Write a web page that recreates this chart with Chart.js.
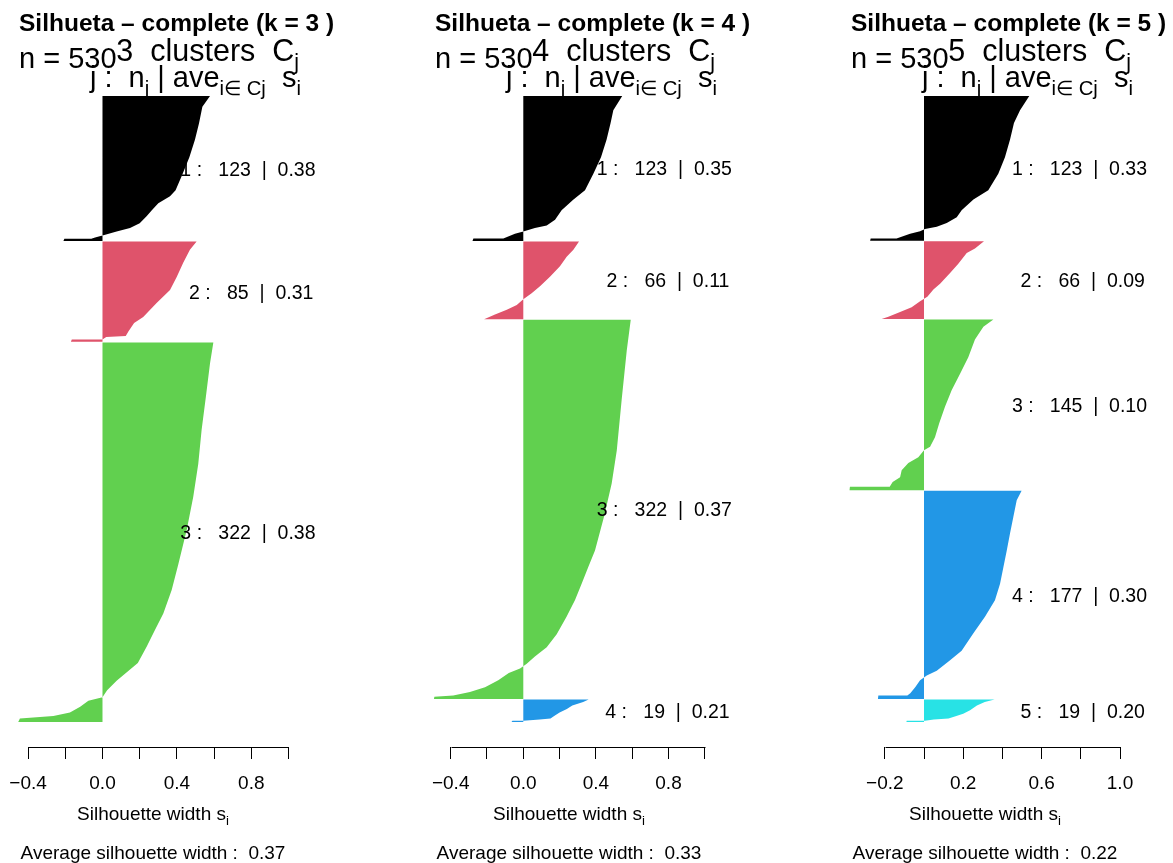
<!DOCTYPE html>
<html>
<head>
<meta charset="utf-8">
<script src="https://cdn.jsdelivr.net/npm/chart.js@4.4.0/dist/chart.umd.min.js"></script>
<style>
  html, body { margin: 0; padding: 0; background: #fff; }
  #wrap { position: relative; width: 1173px; height: 863px; overflow: hidden; }
  canvas { position: absolute; top: 0; }
</style>
</head>
<body>
<div id="wrap">
  <canvas id="panel1" width="416" height="863" style="left:0px"></canvas>
  <canvas id="panel2" width="416" height="863" style="left:416px"></canvas>
  <canvas id="panel3" width="416" height="863" style="left:832px"></canvas>
</div>
<script>
// ---- données ----
const clusterColors = ['#000000', '#DF536B', '#61D04F', '#2297E6', '#28E2E5'];

// k = 3
const p1Sizes = [123, 85, 322];
const p1Avg = ['0.38', '0.31', '0.38'];
const p1Overall = '0.37';
const p1c1Obs = [0, 9, 23, 37, 52, 66, 80, 85, 91, 97, 102, 108, 112, 115, 118, 120, 121, 121, 123];
const p1c1Sil = [0.578, 0.537, 0.519, 0.497, 0.467, 0.431, 0.393, 0.363, 0.300, 0.264, 0.237, 0.200, 0.148, 0.076, 0.005, -0.040, -0.060, -0.205, -0.210];
const p1c2Obs = [0, 7, 18, 30, 41, 52, 64, 69, 76, 80, 81, 83, 83, 85];
const p1c2Sil = [0.506, 0.470, 0.434, 0.399, 0.363, 0.291, 0.219, 0.170, 0.140, 0.125, 0.020, 0.000, -0.165, -0.170];
const p1c3Obs = [0, 18, 46, 74, 103, 131, 159, 188, 210, 230, 244, 258, 272, 287, 295, 301, 304, 309, 314, 317, 319, 322];
const p1c3Sil = [0.596, 0.578, 0.556, 0.533, 0.515, 0.488, 0.453, 0.408, 0.372, 0.327, 0.282, 0.238, 0.190, 0.076, 0.025, 0.000, -0.076, -0.120, -0.175, -0.264, -0.444, -0.453];

// k = 4
const p2Sizes = [123, 66, 322, 19];
const p2Avg = ['0.35', '0.11', '0.37', '0.21'];
const p2Overall = '0.33';
const p2c1Obs = [0, 12, 23, 37, 52, 66, 80, 88, 97, 105, 110, 112, 115, 117, 121, 121, 123];
const p2c1Sil = [0.545, 0.496, 0.481, 0.459, 0.428, 0.386, 0.340, 0.275, 0.211, 0.175, 0.129, 0.064, 0.000, -0.046, -0.110, -0.275, -0.280];
const p2c2Obs = [0, 7, 13, 21, 30, 38, 44, 49, 54, 58, 62, 66];
const p2c2Sil = [0.307, 0.276, 0.239, 0.202, 0.147, 0.092, 0.046, 0.000, -0.036, -0.091, -0.156, -0.216];
const p2c3Obs = [0, 26, 68, 111, 139, 167, 196, 210, 224, 238, 252, 267, 278, 286, 292, 296, 300, 306, 312, 316, 319, 320, 322];
const p2c3Sil = [0.592, 0.570, 0.542, 0.515, 0.487, 0.445, 0.395, 0.358, 0.322, 0.285, 0.239, 0.184, 0.129, 0.064, 0.019, -0.018, -0.080, -0.138, -0.211, -0.294, -0.386, -0.490, -0.492];
const p2c4Obs = [0, 2, 5, 8, 11, 14, 16, 17, 18, 18, 19];
const p2c4Sil = [0.360, 0.330, 0.270, 0.240, 0.200, 0.170, 0.150, 0.090, 0.000, -0.060, -0.065];

// k = 5
const p3Sizes = [123, 66, 145, 177, 19];
const p3Avg = ['0.33', '0.09', '0.10', '0.30', '0.20'];
const p3Overall = '0.22';
const p3c1Obs = [0, 12, 23, 37, 52, 66, 80, 88, 97, 103, 108, 111, 113, 115, 117, 121, 121, 123];
const p3c1Sil = [0.537, 0.490, 0.459, 0.439, 0.413, 0.379, 0.328, 0.252, 0.192, 0.167, 0.116, 0.065, 0.005, -0.020, -0.071, -0.140, -0.272, -0.275];
const p3c2Obs = [0, 6, 10, 19, 27, 36, 41, 47, 51, 56, 60, 64, 66];
const p3c2Sil = [0.306, 0.260, 0.218, 0.175, 0.133, 0.082, 0.048, 0.017, -0.020, -0.063, -0.122, -0.182, -0.216];
const p3c3Obs = [0, 6, 17, 32, 46, 60, 74, 88, 100, 108, 111, 117, 122, 128, 134, 138, 142, 142, 145];
const p3c3Sil = [0.354, 0.303, 0.260, 0.226, 0.184, 0.141, 0.107, 0.078, 0.056, 0.031, 0.000, -0.029, -0.080, -0.114, -0.122, -0.160, -0.175, -0.378, -0.380];
const p3c4Obs = [0, 8, 22, 36, 51, 65, 79, 93, 107, 121, 136, 144, 153, 157, 161, 167, 172, 174, 174, 177];
const p3c4Sil = [0.498, 0.473, 0.456, 0.439, 0.422, 0.405, 0.388, 0.362, 0.311, 0.252, 0.192, 0.133, 0.065, 0.014, -0.020, -0.045, -0.070, -0.085, -0.233, -0.235];
const p3c5Obs = [0, 2, 5, 9, 12, 14, 16, 17, 18, 18, 19];
const p3c5Sil = [0.360, 0.310, 0.270, 0.235, 0.200, 0.165, 0.125, 0.050, 0.005, -0.088, -0.090];

// graduations
const ticksA = [-0.4, -0.2, 0, 0.2, 0.4, 0.6, 0.8, 1.0];
const tickLabelsA = ['\u22120.4', '', '0.0', '', '0.4', '', '0.8', ''];
const ticksB = [-0.2, 0, 0.2, 0.4, 0.6, 0.8, 1.0];
const tickLabelsB = ['\u22120.2', '', '0.2', '', '0.6', '', '1.0'];

const FONT = '"Liberation Sans", Arial, Helvetica, sans-serif';
const fnt = (size, bold) => (bold ? 'bold ' : '') + size + 'px ' + FONT;

// texte avec indices (parts: [texte, estIndice])
function richText(ctx, parts, x, y, align, size) {
    const widths = parts.map(([t, sub]) => {
        ctx.font = fnt(sub ? size * 0.7 : size);
        return ctx.measureText(t).width;
    });
    const total = widths.reduce((a, b) => a + b, 0);
    let cx = align === 'right' ? x - total : align === 'center' ? x - total / 2 : x;
    ctx.textAlign = 'left';
    ctx.textBaseline = 'alphabetic';
    parts.forEach(([t, sub], i) => {
        ctx.font = fnt(sub ? size * 0.7 : size);
        ctx.fillText(t, cx, sub ? y + size * 0.27 : y);
        cx += widths[i];
    });
}

function makePanel(id, cfg) {
    const k = cfg.sizes.length;
    const n = cfg.sizes.reduce((a, b) => a + b, 0);
    const total = n + 0.5 * (k - 1); // espace de 0.5 barre entre groupes
    const mids = [];
    let off = 0;

    const datasets = cfg.profiles.map((prof, j) => {
        const pts = [{ x: 0, y: off }];
        prof.obs.forEach((o, i) => pts.push({ x: prof.sil[i], y: off + o }));
        pts.push({ x: 0, y: off + cfg.sizes[j] });
        mids.push(off + cfg.sizes[j] / 2);
        off += cfg.sizes[j] + 0.5;
        return {
            data: pts,
            backgroundColor: clusterColors[j],
            borderColor: 'rgba(0,0,0,0)',
            borderWidth: 0,
            pointRadius: 0,
            tension: 0,
            fill: 'shape'
        };
    });

    const textPlugin = {
        id: 'silText' + id,
        afterDraw(chart) {
            const ctx = chart.ctx;
            const xs = chart.scales.x;
            const ys = chart.scales.y;
            const area = chart.chartArea;
            ctx.save();
            ctx.fillStyle = '#000';

            // ligne de l'axe entre la première et la dernière graduation
            const axY = Math.round(area.bottom) + 0.5;
            ctx.strokeStyle = '#000';
            ctx.lineWidth = 1;
            ctx.beginPath();
            ctx.moveTo(Math.round(xs.getPixelForValue(cfg.ticks[0])) + 0.5, axY);
            ctx.lineTo(Math.round(xs.getPixelForValue(cfg.ticks[cfg.ticks.length - 1])) + 0.5, axY);
            ctx.stroke();

            // titre
            ctx.font = fnt(24.5, true);
            ctx.textAlign = 'left';
            ctx.textBaseline = 'alphabetic';
            ctx.fillText('Silhueta \u2013 complete (k = ' + k + ' )', 19, 31);

            // en-têtes
            ctx.font = fnt(29);
            ctx.fillText('n = ' + n, 19, 68);
            richText(ctx, [[k + '  clusters  C', false], ['j', true]], area.right, 61, 'right', 30.5);
            richText(ctx, [['j :  n', false], ['j', true], [' | ave', false], ['i\u2208 Cj', true], ['  s', false], ['i', true]],
                area.right + 2, 87, 'right', 29);

            // étiquettes des groupes
            const lblSize = 19.5;
            ctx.font = fnt(lblSize);
            cfg.sizes.forEach((nj, j) => {
                const label = (j + 1) + ' :   ' + nj + '  |  ' + cfg.avg[j];
                const w = ctx.measureText(label).width;
                const x = xs.getPixelForValue(1) - 0.8 * w;
                const y = ys.getPixelForValue(mids[j]) + 0.36 * lblSize;
                ctx.fillText(label, x, y);
            });

            // titres de l'axe
            const cx = (area.left + area.right) / 2;
            richText(ctx, [['Silhouette width s', false], ['i', true]], cx, 820, 'center', 19);
            ctx.font = fnt(19);
            ctx.textAlign = 'center';
            ctx.fillText('Average silhouette width :  ' + cfg.overall, cx, 859);
            ctx.restore();
        }
    };

    new Chart(document.getElementById(id), {
        type: 'line',
        data: { datasets },
        plugins: [textPlugin],
        options: {
            responsive: false,
            animation: false,
            events: [],
            layout: { padding: { top: 71, left: 7, right: 117, bottom: 0 } },
            scales: {
                x: {
                    type: 'linear',
                    position: 'bottom',
                    min: cfg.xlim[0],
                    max: cfg.xlim[1],
                    afterBuildTicks: (s) => { s.ticks = cfg.ticks.map(v => ({ value: v })); },
                    afterFit: (s) => { s.height = 116; },
                    grid: { display: true, drawOnChartArea: false, drawTicks: true, tickLength: 12, color: '#000', lineWidth: 1 },
                    border: { display: false },
                    ticks: {
                        autoSkip: false,
                        maxRotation: 0,
                        padding: 0,
                        color: '#000',
                        font: { family: FONT, size: 19, lineHeight: 2.57 },
                        callback: (v, i) => cfg.tickLabels[i]
                    }
                },
                y: {
                    type: 'linear',
                    display: false,
                    reverse: true,
                    min: -0.04 * total,
                    max: 1.04 * total
                }
            },
            plugins: {
                legend: { display: false },
                tooltip: { enabled: false }
            }
        }
    });
}

makePanel('panel1', {
    sizes: p1Sizes, avg: p1Avg, overall: p1Overall,
    profiles: [
        { obs: p1c1Obs, sil: p1c1Sil },
        { obs: p1c2Obs, sil: p1c2Sil },
        { obs: p1c3Obs, sil: p1c3Sil }
    ],
    ticks: ticksA, tickLabels: tickLabelsA,
    xlim: [-0.5134, 1.0565]
});

makePanel('panel2', {
    sizes: p2Sizes, avg: p2Avg, overall: p2Overall,
    profiles: [
        { obs: p2c1Obs, sil: p2c1Sil },
        { obs: p2c2Obs, sil: p2c2Sil },
        { obs: p2c3Obs, sil: p2c3Sil },
        { obs: p2c4Obs, sil: p2c4Sil }
    ],
    ticks: ticksA, tickLabels: tickLabelsA,
    xlim: [-0.5526, 1.0562]
});

makePanel('panel3', {
    sizes: p3Sizes, avg: p3Avg, overall: p3Overall,
    profiles: [
        { obs: p3c1Obs, sil: p3c1Sil },
        { obs: p3c2Obs, sil: p3c2Sil },
        { obs: p3c3Obs, sil: p3c3Sil },
        { obs: p3c4Obs, sil: p3c4Sil },
        { obs: p3c5Obs, sil: p3c5Sil }
    ],
    ticks: ticksB, tickLabels: tickLabelsB,
    xlim: [-0.4337, 1.0561]
});
</script>
</body>
</html>
